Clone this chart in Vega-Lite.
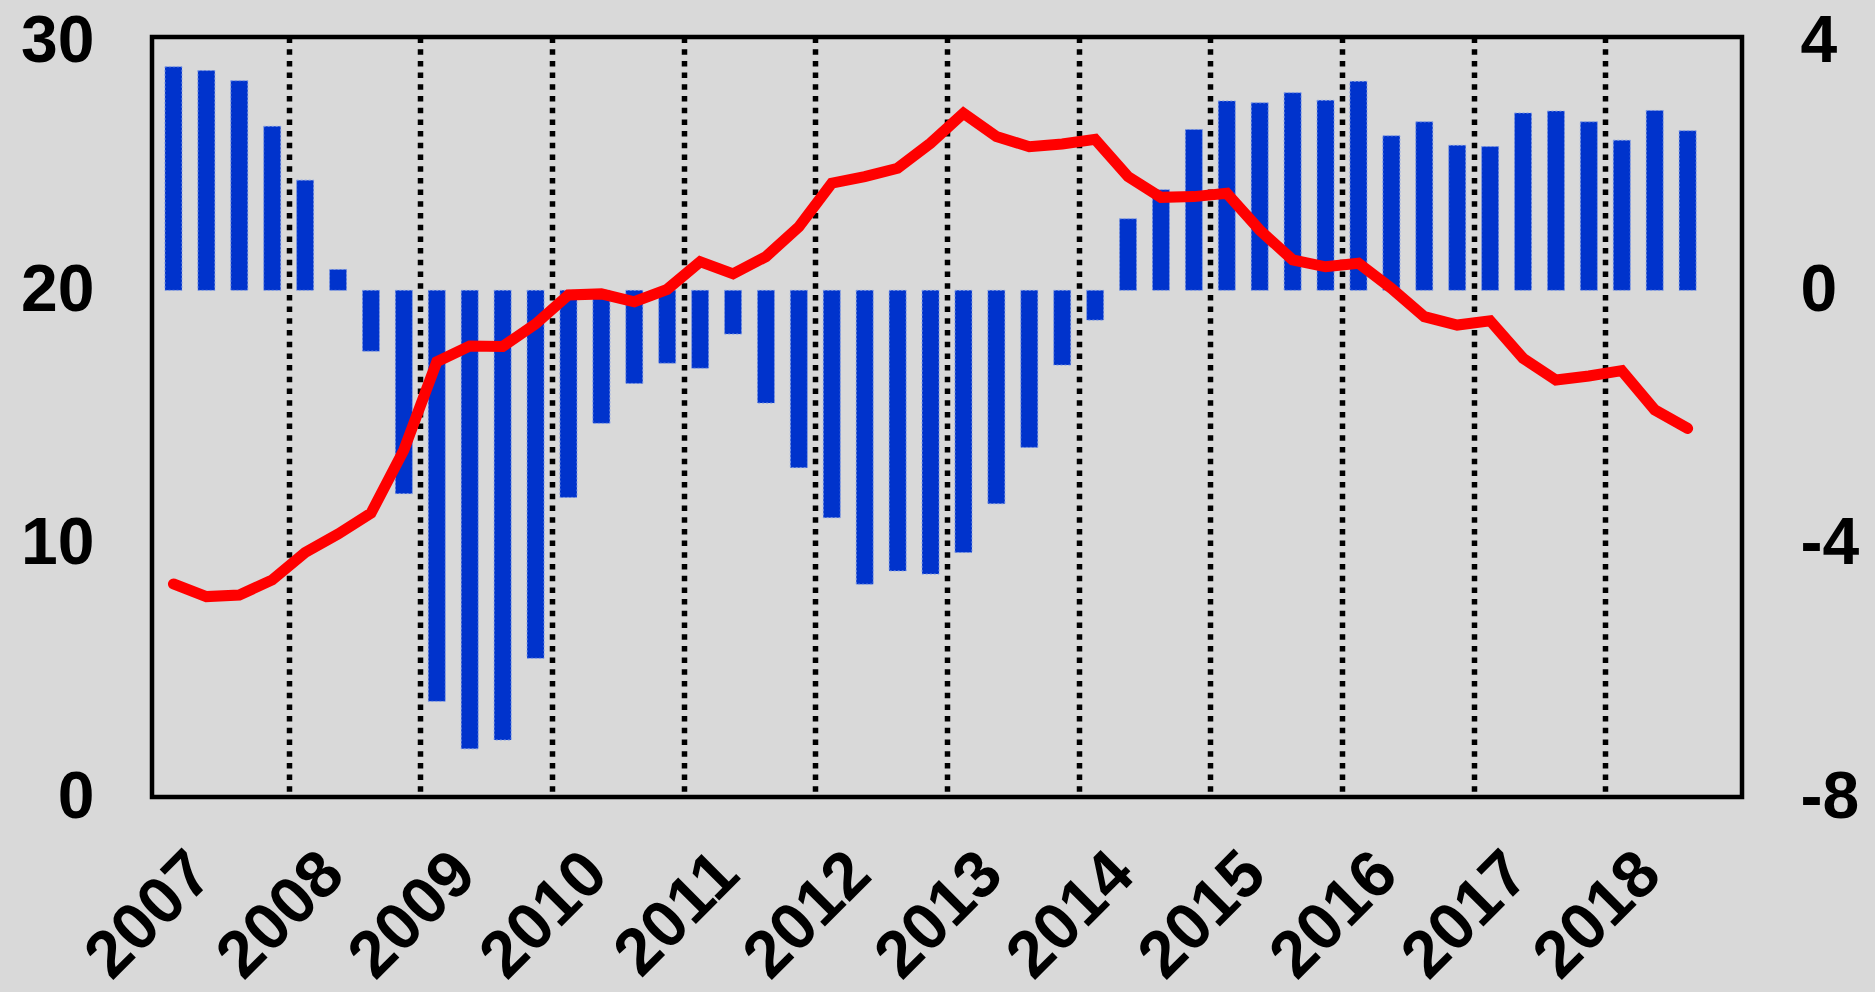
{
  "$schema": "https://vega.github.io/schema/vega-lite/v6.json",
  "width": 1590,
  "height": 760,
  "autosize": {"type": "none"},
  "padding": {"left": 152, "top": 37, "right": 133, "bottom": 195},
  "background": "#d9d9d9",
  "config": {
    "view": {"stroke": "#000000", "strokeWidth": 4.5, "fill": "#d9d9d9"},
    "axis": {
      "labelFont": "Liberation Sans",
      "labelFontWeight": "bold",
      "labelFontSize": 66,
      "labelColor": "#000000",
      "ticks": false,
      "tickSize": 0,
      "domain": false,
      "title": null,
      "labelOverlap": false,
      "labelFlush": false,
      "labelBound": false
    }
  },
  "data": {
    "values": [
      {"t": 2007.125, "emp": 3.53, "unemp": 8.41},
      {"t": 2007.375, "emp": 3.47, "unemp": 7.91},
      {"t": 2007.625, "emp": 3.31, "unemp": 7.97},
      {"t": 2007.875, "emp": 2.59, "unemp": 8.57},
      {"t": 2008.125, "emp": 1.74, "unemp": 9.65},
      {"t": 2008.375, "emp": 0.33, "unemp": 10.38},
      {"t": 2008.625, "emp": -0.96, "unemp": 11.2},
      {"t": 2008.875, "emp": -3.21, "unemp": 13.7},
      {"t": 2009.125, "emp": -6.49, "unemp": 17.18},
      {"t": 2009.375, "emp": -7.24, "unemp": 17.8},
      {"t": 2009.625, "emp": -7.1, "unemp": 17.78},
      {"t": 2009.875, "emp": -5.81, "unemp": 18.67},
      {"t": 2010.125, "emp": -3.27, "unemp": 19.82},
      {"t": 2010.375, "emp": -2.1, "unemp": 19.86},
      {"t": 2010.625, "emp": -1.47, "unemp": 19.55},
      {"t": 2010.875, "emp": -1.15, "unemp": 20.04},
      {"t": 2011.125, "emp": -1.23, "unemp": 21.13},
      {"t": 2011.375, "emp": -0.69, "unemp": 20.65},
      {"t": 2011.625, "emp": -1.78, "unemp": 21.33},
      {"t": 2011.875, "emp": -2.8, "unemp": 22.51},
      {"t": 2012.125, "emp": -3.59, "unemp": 24.23},
      {"t": 2012.375, "emp": -4.64, "unemp": 24.49},
      {"t": 2012.625, "emp": -4.43, "unemp": 24.82},
      {"t": 2012.875, "emp": -4.48, "unemp": 25.81},
      {"t": 2013.125, "emp": -4.14, "unemp": 26.99},
      {"t": 2013.375, "emp": -3.37, "unemp": 26.07},
      {"t": 2013.625, "emp": -2.48, "unemp": 25.67},
      {"t": 2013.875, "emp": -1.18, "unemp": 25.78},
      {"t": 2014.125, "emp": -0.47, "unemp": 25.96},
      {"t": 2014.375, "emp": 1.13, "unemp": 24.49},
      {"t": 2014.625, "emp": 1.59, "unemp": 23.67},
      {"t": 2014.875, "emp": 2.54, "unemp": 23.7},
      {"t": 2015.125, "emp": 2.99, "unemp": 23.83},
      {"t": 2015.375, "emp": 2.96, "unemp": 22.38},
      {"t": 2015.625, "emp": 3.12, "unemp": 21.2},
      {"t": 2015.875, "emp": 3.0, "unemp": 20.93},
      {"t": 2016.125, "emp": 3.3, "unemp": 21.07},
      {"t": 2016.375, "emp": 2.44, "unemp": 20.08},
      {"t": 2016.625, "emp": 2.66, "unemp": 18.96},
      {"t": 2016.875, "emp": 2.29, "unemp": 18.63},
      {"t": 2017.125, "emp": 2.27, "unemp": 18.8},
      {"t": 2017.375, "emp": 2.8, "unemp": 17.32},
      {"t": 2017.625, "emp": 2.83, "unemp": 16.46},
      {"t": 2017.875, "emp": 2.66, "unemp": 16.62},
      {"t": 2018.125, "emp": 2.37, "unemp": 16.83},
      {"t": 2018.375, "emp": 2.84, "unemp": 15.28},
      {"t": 2018.625, "emp": 2.52, "unemp": 14.55}
    ]
  },
  "encoding": {
    "x": {
      "field": "t",
      "type": "quantitative",
      "scale": {"domain": [2007, 2019], "nice": false, "zero": false},
      "axis": {
        "orient": "bottom",
        "values": [2007, 2008, 2009, 2010, 2011, 2012, 2013, 2014, 2015, 2016, 2017, 2018],
        "format": "d",
        "grid": true,
        "gridColor": {"condition": {"test": "datum.value == 2007", "value": "transparent"}, "value": "#000000"},
        "gridWidth": 5.5,
        "gridDash": [5.5, 6.2],
        "labelAngle": 315,
        "labelAlign": "right",
        "labelBaseline": "middle",
        "labelOffset": 44,
        "labelPadding": 66
      }
    }
  },
  "layer": [
    {
      "mark": {"type": "bar", "size": 17, "color": "#0033cc", "stroke": "#7f9be6", "strokeWidth": 1, "strokeDash": [2, 2]},
      "encoding": {
        "y": {
          "field": "emp",
          "type": "quantitative",
          "scale": {"domain": [-8, 4], "nice": false},
          "axis": {
            "orient": "right",
            "values": [-8, -4, 0, 4],
            "grid": false,
            "labelAlign": "left",
            "labelPadding": 58,
            "labelOffset": {"condition": {"test": "datum.value == 4", "value": 4}, "value": 0},
            "labelExpr": "datum.value < 0 ? '-' + abs(datum.value) : '' + datum.value"
          }
        }
      }
    },
    {
      "mark": {"type": "line", "color": "#ff0000", "strokeWidth": 11, "strokeCap": "round"},
      "encoding": {
        "y": {
          "field": "unemp",
          "type": "quantitative",
          "scale": {"domain": [0, 30], "nice": false, "zero": true},
          "axis": {
            "orient": "left",
            "values": [0, 10, 20, 30],
            "grid": false,
            "labelPadding": 58,
            "labelOffset": {"condition": {"test": "datum.value == 30", "value": 4}, "value": 0}
          }
        }
      }
    }
  ],
  "resolve": {"scale": {"y": "independent"}, "axis": {"y": "independent"}}
}
